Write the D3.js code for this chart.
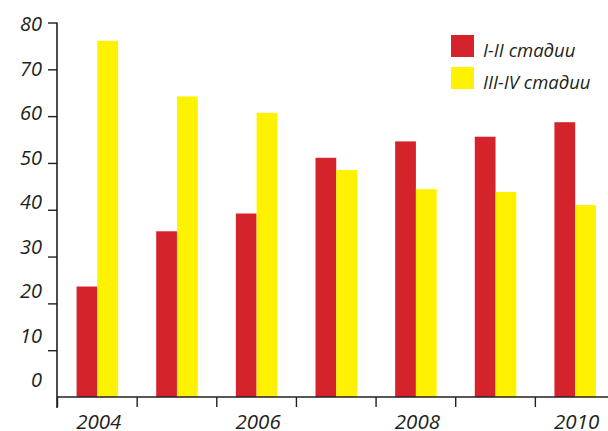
<!DOCTYPE html>
<html>
<head>
<meta charset="utf-8">
<script src="https://cdn.jsdelivr.net/npm/d3@7"></script>
<style>
  html, body { margin: 0; padding: 0; background: #fff; }
  svg { display: block; }
  text { font-family: "Open Sans", "DejaVu Sans", sans-serif; font-style: italic; fill: #231f20; }
</style>
</head>
<body>
<svg id="chart" width="608" height="431"></svg>
<script>
// Years along the horizontal axis
const years = ["2004", "2005", "2006", "2007", "2008", "2009", "2010"];
// Share of cases by stage, %
const stageI_II = [23.6, 35.4, 39.2, 51.1, 54.6, 55.6, 58.7];
const stageIII_IV = [76.1, 64.2, 60.7, 48.5, 44.4, 43.8, 41.0];
const seriesNames = ["I-II стадии", "III-IV стадии"];
const seriesColors = ["#d4232b", "#fff200"];
// Axis labels
const yTicks = [0, 10, 20, 30, 40, 50, 60, 70, 80];
const xLabels = ["2004", "", "2006", "", "2008", "", "2010"];

const svg = d3.select("#chart");
const axisColor = "#231f20";

const x = d3.scaleBand().domain(years).range([57.5, 615]).padding(0);
const y = d3.scaleLinear().domain([0, 80]).range([397, 22.5]);
// tick labels sit on a slightly tighter spacing than the tick marks
const yLabel = d3.scaleLinear().domain([0, 80]).range([380, 24]);
const groupWidth = 41.5;
const inner = d3.scaleBand().domain(seriesNames).range([0, groupWidth]).padding(0);

const data = years.map((yr, i) => ({ year: yr, values: [stageI_II[i], stageIII_IV[i]] }));

// bars
const groups = svg.append("g").selectAll("g").data(data).join("g")
  .attr("transform", d => `translate(${x(d.year) + x.bandwidth() / 2 - groupWidth / 2},0)`);
groups.selectAll("rect")
  .data(d => d.values.map((v, k) => ({ name: seriesNames[k], value: v, color: seriesColors[k] })))
  .join("rect")
  .attr("x", d => inner(d.name))
  .attr("width", inner.bandwidth())
  .attr("y", d => y(d.value))
  .attr("height", d => y(0) - y(d.value))
  .attr("fill", d => d.color);

// y axis
const yAxis = svg.append("g").attr("transform", "translate(57,0)")
  .call(d3.axisLeft(y).tickValues(yTicks.filter(t => t > 0)).tickSize(9).tickSizeOuter(0).tickFormat(""));
yAxis.select(".domain").remove();
yAxis.selectAll("line").attr("stroke", axisColor).attr("stroke-width", 1.4);
svg.append("line")
  .attr("x1", 57).attr("x2", 57)
  .attr("y1", y(80)).attr("y2", y(0) + 11)
  .attr("stroke", axisColor).attr("stroke-width", 1.6);
svg.append("g").selectAll("text").data(yTicks).join("text")
  .attr("x", 42)
  .attr("y", d => yLabel(d))
  .attr("dy", "0.35em")
  .attr("text-anchor", "end")
  .attr("font-size", 20)
  .text(d => d);

// x axis
svg.append("line")
  .attr("x1", 57).attr("x2", 608)
  .attr("y1", y(0)).attr("y2", y(0))
  .attr("stroke", axisColor).attr("stroke-width", 1.6);
svg.append("g").selectAll("line").data(years).join("line")
  .attr("x1", d => x(d)).attr("x2", d => x(d))
  .attr("y1", y(0)).attr("y2", y(0) + 10)
  .attr("stroke", axisColor).attr("stroke-width", 1.4);
svg.append("g").selectAll("text").data(years).join("text")
  .attr("x", d => x(d) + x.bandwidth() / 2 + 1.5)
  .attr("y", 421.5)
  .attr("dy", "0.35em")
  .attr("text-anchor", "middle")
  .attr("font-size", 20.5)
  .text((d, i) => xLabels[i]);

// legend
const legend = svg.append("g").attr("transform", "translate(451,35)");
const items = legend.selectAll("g").data(seriesNames).join("g")
  .attr("transform", (d, i) => `translate(0,${i * 32})`);
items.append("rect")
  .attr("width", 23).attr("height", 22)
  .attr("fill", (d, i) => seriesColors[i]);
items.append("text")
  .attr("x", 32).attr("y", 16)
  .attr("dy", "0.35em")
  .attr("font-size", 18.5)
  .text(d => d);
</script>
</body>
</html>
